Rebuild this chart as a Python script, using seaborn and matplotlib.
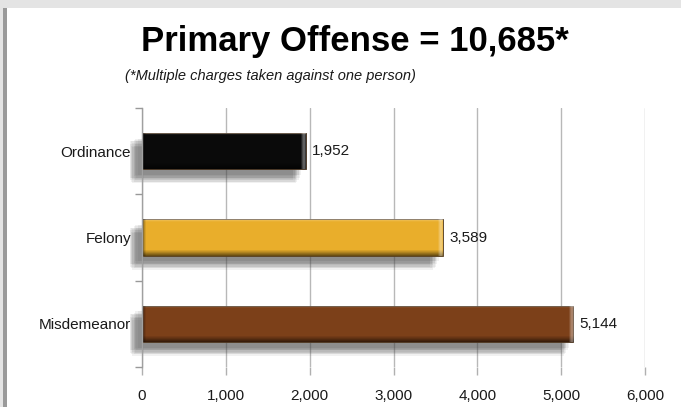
import matplotlib
matplotlib.use("Agg")
import matplotlib.pyplot as plt
import matplotlib.patheffects as pe
from matplotlib.patches import Rectangle
import numpy as np
import pandas as pd
import seaborn as sns

categories = ["Ordinance", "Felony", "Misdemeanor"]
values = [1952, 3589, 5144]
value_labels = ["1,952", "3,589", "5,144"]
bar_colors = ["#0a0a0a", "#e9ae2b", "#7c4019"]
x_ticks = [0, 1000, 2000, 3000, 4000, 5000, 6000]
x_tick_labels = ["0", "1,000", "2,000", "3,000", "4,000", "5,000", "6,000"]
title = "Primary Offense = 10,685*"
subtitle = "(*Multiple charges taken against one person)"

sns.set_theme(style="white")
plt.rcParams["font.family"] = ["Liberation Sans", "DejaVu Sans"]

df = pd.DataFrame({"category": categories, "value": values})

fig = plt.figure(figsize=(6.81, 4.07), dpi=100)
fig.patch.set_facecolor("#e4e4e4")
fig.add_artist(Rectangle((7 / 681, 0), 1, 1 - 8 / 407, transform=fig.transFigure,
                         facecolor="white", edgecolor="none", zorder=0))
fig.add_artist(Rectangle((3 / 681, 0), 4 / 681, 1 - 8 / 407, transform=fig.transFigure,
                         facecolor="#9a9a9a", edgecolor="none", zorder=0))

ax = fig.add_axes([142 / 681, 40 / 407, 503 / 681, 259 / 407])
ax.set_facecolor("none")

sns.barplot(data=df, y="category", x="value", hue="category", palette=bar_colors,
            order=categories, width=0.42, legend=False, ax=ax, zorder=3,
            saturation=1, edgecolor="#4a3520", linewidth=0.6)

# soft (blurred-looking) drop shadow, down and to the left
shadow = []
offs = [(-9, -8), (-8, -6), (-7, -7), (-6, -5), (-5, -8), (-8, -9),
        (-4, -6), (-6, -9), (-9, -6), (-3, -4), (-5, -4), (-7, -10)]
for dx, dy in offs:
    shadow.append(pe.SimplePatchShadow(offset=(dx, dy), shadow_rgbFace="#4a4a4a", alpha=0.075))
shadow.append(pe.Normal())

px_per_unit = 503 / 6000
for p in ax.patches:
    p.set_path_effects(shadow)
    p.set_clip_on(False)
    x0, y0 = p.get_x(), p.get_y()
    w, h = p.get_width(), p.get_height()
    # vertical shading: light top edge, darker bottom edge
    n = 36
    rgba = np.zeros((n, 1, 4))
    a = np.zeros(n)
    a[:3] = [0.3, 0.15, 0.05]
    a[-6:] = [0.08, 0.16, 0.25, 0.35, 0.45, 0.55]
    rgba[:3, 0, :3] = 1.0
    rgba[:, 0, 3] = a
    im = ax.imshow(rgba, extent=(x0, x0 + w, y0 + h, y0), aspect="auto",
                   zorder=4, interpolation="nearest")
    im.set_clip_path(p)
    # bevelled ends: darker left cap, lighter right cap (about one pixel per column)
    m = max(int(round(w * px_per_unit)), 10)
    rgba2 = np.zeros((1, m, 4))
    a2 = np.zeros(m)
    a2[:4] = [0.55, 0.4, 0.2, 0.08]
    a2[-5:] = [0.1, 0.25, 0.35, 0.35, 0.2]
    rgba2[0, -5:, :3] = 1.0
    rgba2[0, :, 3] = a2
    im2 = ax.imshow(rgba2, extent=(x0, x0 + w, y0 + h, y0), aspect="auto",
                    zorder=4, interpolation="nearest")
    im2.set_clip_path(p)

for i, (v, lab) in enumerate(zip(values, value_labels)):
    ax.text(v + 75, i, lab, va="center", ha="left", fontsize=11, color="#1a1a1a")

ax.set_xlim(0, 6000)
ax.set_ylim(2.5, -0.5)
ax.set_xticks(x_ticks)
ax.set_xticklabels(x_tick_labels, fontsize=11, color="#1a1a1a")
ax.set_yticks(range(len(categories)))
ax.set_yticklabels(categories, fontsize=11, color="#1a1a1a")
ax.set_yticks([-0.5, 0.5, 1.5, 2.5], minor=True)
ax.tick_params(axis="y", which="major", length=0, pad=8)
ax.tick_params(axis="y", which="minor", length=5, color="#999999", width=1, left=True)
ax.tick_params(axis="x", which="major", length=6, color="#b0b0b0", width=1,
               bottom=True, pad=10)
ax.yaxis.set_zorder(6)
ax.set_xlabel("")
ax.set_ylabel("")
ax.grid(axis="x", color="#b8b8b8", linewidth=1, zorder=0)
for s in ["top", "right", "bottom"]:
    ax.spines[s].set_visible(False)
ax.spines["left"].set_color("#a0a0a0")
ax.spines["left"].set_linewidth(1)
ax.spines["left"].set_zorder(5)

fig.text(355 / 681, 1 - 42 / 407, title, ha="center", va="center",
         fontsize=25, fontweight="bold",
         family=["Liberation Sans", "DejaVu Sans"], color="black")
fig.text(270 / 681, 1 - 76 / 407, subtitle, ha="center", va="center",
         fontsize=10.5, fontstyle="italic", color="#1a1a1a")

fig.savefig("out.png", dpi=100)
